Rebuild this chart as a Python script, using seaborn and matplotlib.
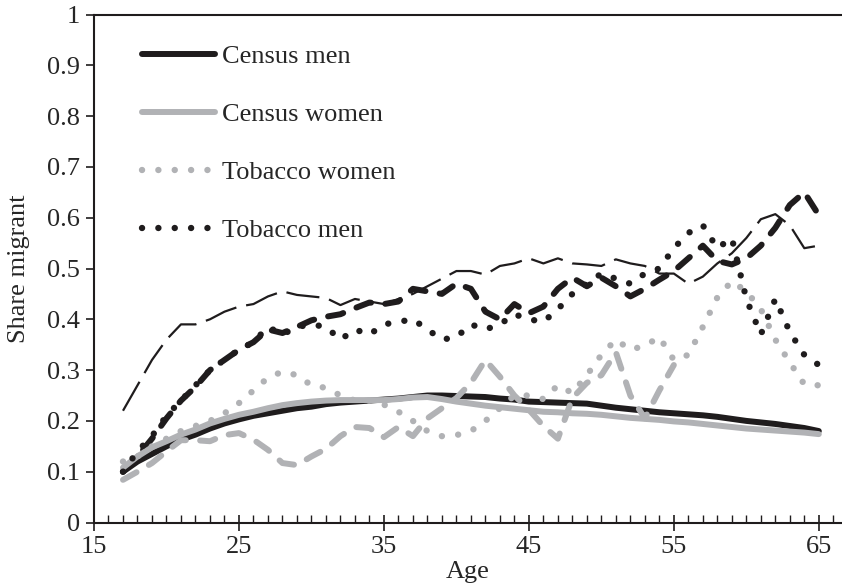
import matplotlib
matplotlib.use("Agg")
import matplotlib.pyplot as plt
import seaborn as sns
import numpy as np

ages = list(range(17, 66))

census_men = [0.100, 0.120, 0.135, 0.150, 0.163, 0.173, 0.185, 0.195, 0.203, 0.210,
              0.215, 0.220, 0.225, 0.228, 0.233, 0.236, 0.238, 0.240, 0.242, 0.244,
              0.247, 0.250, 0.250, 0.249, 0.248, 0.247, 0.244, 0.242, 0.238, 0.237,
              0.236, 0.235, 0.234, 0.230, 0.226, 0.223, 0.220, 0.217, 0.215, 0.213,
              0.211, 0.208, 0.204, 0.200, 0.197, 0.194, 0.190, 0.186, 0.180]

census_women = [0.108, 0.130, 0.148, 0.160, 0.173, 0.183, 0.195, 0.204, 0.212, 0.218,
                0.225, 0.231, 0.235, 0.238, 0.240, 0.241, 0.241, 0.241, 0.241, 0.243,
                0.246, 0.247, 0.243, 0.238, 0.234, 0.230, 0.227, 0.224, 0.221, 0.218,
                0.217, 0.215, 0.214, 0.212, 0.209, 0.206, 0.204, 0.202, 0.199, 0.197,
                0.194, 0.191, 0.188, 0.185, 0.183, 0.181, 0.179, 0.177, 0.174]

tobacco_women = [0.120, 0.130, 0.150, 0.165, 0.180, 0.190, 0.200, 0.215, 0.235, 0.260,
                 0.285, 0.297, 0.290, 0.270, 0.265, 0.250, 0.240, 0.240, 0.232, 0.218,
                 0.200, 0.180, 0.170, 0.172, 0.180, 0.200, 0.225, 0.250, 0.250, 0.243,
                 0.270, 0.255, 0.290, 0.330, 0.360, 0.340, 0.348, 0.365, 0.320, 0.330,
                 0.385, 0.443, 0.475, 0.455, 0.420, 0.360, 0.315, 0.272, 0.270]

tobacco_men = [0.100, 0.140, 0.170, 0.210, 0.240, 0.270, 0.300, 0.320, 0.340, 0.355,
               0.385, 0.370, 0.385, 0.390, 0.385, 0.360, 0.380, 0.370, 0.390, 0.395,
               0.400, 0.380, 0.360, 0.365, 0.390, 0.380, 0.390, 0.410, 0.400, 0.395,
               0.420, 0.450, 0.470, 0.490, 0.480, 0.470, 0.490, 0.500, 0.540, 0.570,
               0.585, 0.540, 0.560, 0.440, 0.370, 0.440, 0.375, 0.330, 0.310]

# lines without a legend entry
thin_dashed = [0.220, 0.270, 0.320, 0.360, 0.390, 0.390, 0.400, 0.415, 0.425, 0.430,
               0.445, 0.455, 0.448, 0.445, 0.442, 0.428, 0.440, 0.435, 0.430, 0.440,
               0.450, 0.465, 0.480, 0.495, 0.495, 0.488, 0.505, 0.510, 0.520, 0.510,
               0.520, 0.510, 0.508, 0.505, 0.518, 0.510, 0.505, 0.490, 0.490, 0.470,
               0.484, 0.510, 0.530, 0.560, 0.597, 0.607, 0.585, 0.540, 0.545]

thick_dashed_black = [0.100, 0.130, 0.165, 0.205, 0.240, 0.267, 0.300, 0.320, 0.340, 0.355,
                      0.380, 0.373, 0.385, 0.398, 0.405, 0.410, 0.422, 0.433, 0.430, 0.435,
                      0.460, 0.455, 0.450, 0.470, 0.460, 0.415, 0.400, 0.430, 0.412, 0.425,
                      0.460, 0.482, 0.465, 0.482, 0.465, 0.445, 0.460, 0.478, 0.495, 0.520,
                      0.545, 0.515, 0.508, 0.520, 0.545, 0.580, 0.625, 0.650, 0.605]

ages_gray_dashed = list(range(17, 56))
thick_dashed_gray = [0.084, 0.100, 0.117, 0.140, 0.162, 0.162, 0.160, 0.172, 0.176, 0.163,
                     0.143, 0.117, 0.113, 0.130, 0.145, 0.170, 0.188, 0.186, 0.168, 0.188,
                     0.170, 0.205, 0.225, 0.245, 0.275, 0.320, 0.287, 0.250, 0.222, 0.190,
                     0.165, 0.245, 0.275, 0.290, 0.335, 0.250, 0.205, 0.260, 0.310]

BLACK = "#1f1c1d"
GRAY = "#b1b2b5"
FS = 19

sns.set_theme(style="white")
plt.rcParams['font.family'] = ['Liberation Serif', 'DejaVu Serif']
plt.rcParams['font.size'] = FS

fig = plt.figure(figsize=(8.42, 5.88), dpi=100)
ax = fig.add_axes([94 / 842, 65.5 / 588, 748 / 842, 508 / 588])

dots = (0, (0.01, 2.55))
dashes = (0, (2.6, 2.4))

sns.lineplot(x=ages, y=thin_dashed, ax=ax, color=BLACK, linewidth=1.6,
             linestyle=(0, (15, 4.5)))
sns.lineplot(x=ages, y=thick_dashed_black, ax=ax, color=BLACK, linewidth=4.3,
             linestyle=dashes, dash_capstyle="round")
sns.lineplot(x=ages, y=census_men, ax=ax, color=BLACK, linewidth=4.3,
             solid_capstyle="round", label="Census men")
sns.lineplot(x=ages, y=census_women, ax=ax, color=GRAY, linewidth=4.3,
             solid_capstyle="round", label="Census women")
sns.lineplot(x=ages_gray_dashed, y=thick_dashed_gray, ax=ax, color=GRAY, linewidth=4.3,
             linestyle=dashes, dash_capstyle="round")
sns.lineplot(x=ages, y=tobacco_women, ax=ax, color=GRAY, linewidth=4.6,
             linestyle=dots, dash_capstyle="round", label="Tobacco women")
sns.lineplot(x=ages, y=tobacco_men, ax=ax, color=BLACK, linewidth=4.6,
             linestyle=dots, dash_capstyle="round", label="Tobacco men")

ax.set_xlim(15, 66.6)
ax.set_ylim(0, 1)
ax.set_xticks(range(15, 66, 10))
ax.set_xticks(range(15, 67), minor=True)
ax.set_yticks(np.arange(0, 1.01, 0.1))
ax.set_yticklabels(["0"] + [f"{v:.1f}" for v in np.arange(0.1, 0.95, 0.1)] + ["1"])
ax.tick_params(axis="x", which="major", direction="inout", length=12, width=1.2,
               color=BLACK, pad=4, labelsize=FS, bottom=True)
ax.tick_params(axis="x", which="minor", direction="in", length=6, width=1.0,
               color=BLACK, bottom=True)
ax.tick_params(axis="y", which="major", direction="out", length=6, width=1.2,
               color=BLACK, pad=4, labelsize=FS, left=True)

for side in ["left", "bottom", "top"]:
    ax.spines[side].set_color(BLACK)
    ax.spines[side].set_linewidth(1.5)
ax.spines["right"].set_visible(False)

ax.set_xlabel("Age", fontsize=FS, labelpad=2)
ax.set_ylabel("Share migrant", fontsize=FS, labelpad=12)

handles, labels = ax.get_legend_handles_labels()
ax.legend(handles, labels, loc="upper left", bbox_to_anchor=(142 / 842, 1 - 45 / 588),
          bbox_transform=fig.transFigure, frameon=False, handlelength=2.75,
          handletextpad=0.3, labelspacing=1.3, borderpad=0, borderaxespad=0,
          fontsize=FS)

fig.savefig("out.png", dpi=100)
